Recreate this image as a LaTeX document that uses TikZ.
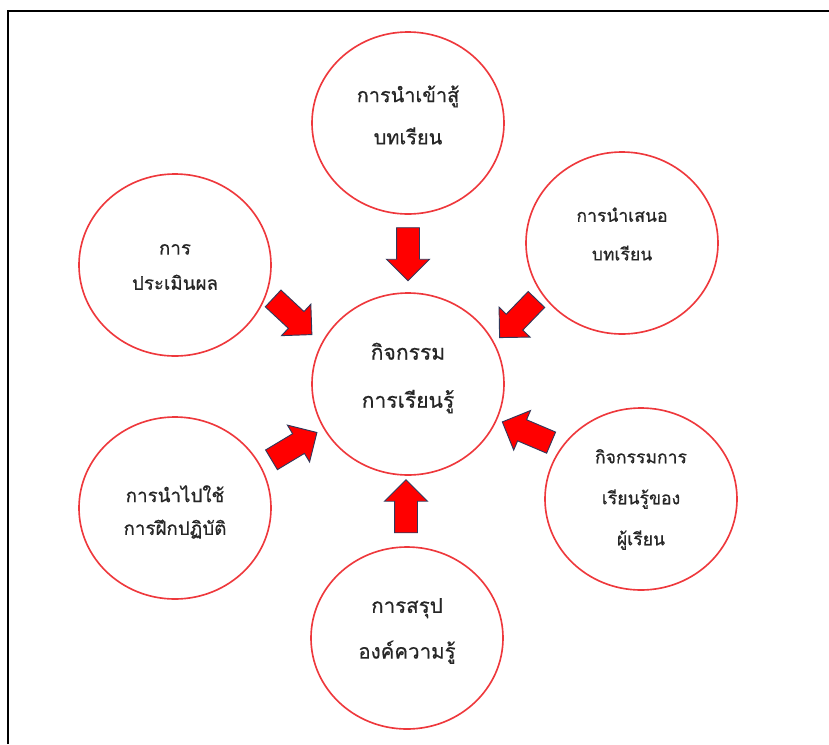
\documentclass[tikz,border=0pt]{standalone}
\usepackage{fontspec}
\newfontfamily\thaifont[Script=Thai, FakeBold=0.6]{Loma}
\usepackage{tikz}
\usetikzlibrary{shapes.geometric}
\usetikzlibrary{shapes.arrows}
\definecolor{ringred}{RGB}{238,56,60}
\definecolor{arrowred}{RGB}{255,0,0}
\definecolor{arrowedge}{RGB}{50,56,90}
\tikzstyle{stage} = [ellipse, draw = ringred, line width = 1.4pt, minimum width = 5.76cm, minimum height = 5.46cm, inner sep = 0]
\tikzstyle{steptext} = [draw = none, inner sep = 0, align = center, text = black!85]
\tikzstyle{push} = [single arrow, draw = arrowedge, fill = arrowred, line width = 0.8pt, minimum height = 1.59cm, inner xsep = 0, inner ysep = 0.33cm, single arrow head extend = 0.3cm]
\newcommand{\thaisize}[2]{\thaifont\fontsize{#1}{#2}\selectfont}

\begin{document}
\begin{tikzpicture}[x = 0.03cm, y = -0.03cm]
\useasboundingbox (0, 0) rectangle (829, 744);
\draw [line width = 1.6pt] (8, 744) -- (8, 11) -- (829, 11);
% the circles
\node [stage] (C) at (408, 384) {};
\node [stage] (T) at (408, 123) {};
\node [stage] (RT) at (622, 243) {};
\node [stage] (RB) at (641, 499) {};
\node [stage] (B) at (407, 638) {};
\node [stage] (LB) at (175, 508) {};
\node [stage] (LT) at (175, 265) {};
% their texts
\node [steptext, font = \thaisize{18}{41}] (Ct) at (408, 378) {กิจกรรม\\การเรียนรู้};
\node [steptext, font = \thaisize{17}{36}] (Tt) at (408, 115) {การนำเข้าสู้\\บทเรียน};
\node [steptext, font = \thaisize{15}{33}] (RTt) at (622, 234) {การนำเสนอ\\บทเรียน};
\node [steptext, font = \thaisize{15}{35}] (RBt) at (641, 499.5) {กิจกรรมการ\\เรียนรู้ของ\\ผู้เรียน};
\node [steptext, font = \thaisize{17.5}{39}] (Bt) at (407, 631) {การสรุป\\องค์ความรู้};
\node [steptext, font = \thaisize{16}{28}] (LBt) at (175, 512) {การนำไปใช้\\การฝึกปฏิบัติ};
\node [steptext, font = \thaisize{16}{30}] (LTt) at (175, 267) {การ\\ประเมินผล};
% block arrows
\node [push, rotate = -90] (aT) at (408, 248.5) {};
\node [push, rotate = -134] (aRT) at (522, 314.4) {};
\node [push, rotate = 157] (aRB) at (532, 434.5) {};
\node [push, rotate = 90] (aB) at (406, 512) {};
\node [push, rotate = 31] (aLB) at (289.3, 449.1) {};
\node [push, rotate = -43] (aLT) at (288.3, 312.6) {};
\end{tikzpicture}
\end{document}
